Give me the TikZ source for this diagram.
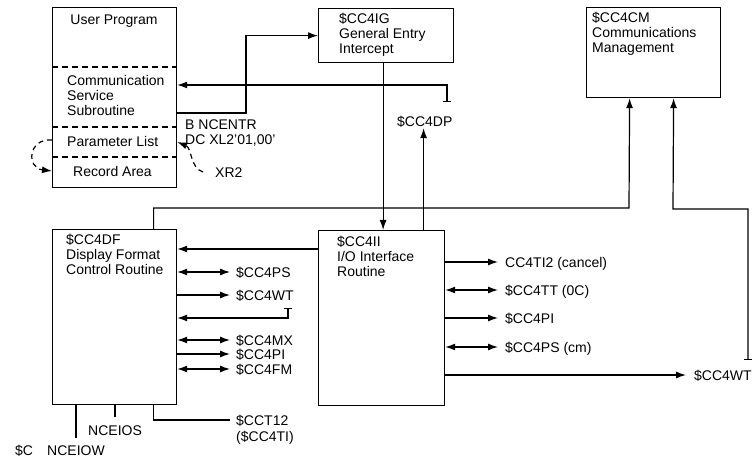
\documentclass[tikz,border=0pt]{standalone}
\usepackage{fontspec}
\setmainfont{Liberation Sans}
\usetikzlibrary{arrows.meta, positioning}

\begin{document}
\begin{tikzpicture}[
  x=1pt, y=-1pt,
  font=\fontsize{14}{15}\selectfont,
  every node/.style={inner sep=0pt},
  blk/.style ={rectangle, draw=black, line width=1.2pt, anchor=north west},
  txt/.style ={anchor=north west, align=left},
  lbl/.style ={anchor=west, text height=10pt, text depth=0pt},
  ln/.style  ={draw=black, line width=1.2pt},
  arr/.style ={-{Latex[length=10pt,width=7pt]}, ln},
  darr/.style={{Latex[length=10pt,width=7pt]}-{Latex[length=10pt,width=7pt]}, ln},
  tarr/.style={{Bar[width=8pt]}-{Latex[length=10pt,width=7pt]}, ln},
  sep/.style ={dash pattern=on 6pt off 4pt, line width=1.2pt},
  dsh/.style ={-{Latex[length=10pt,width=7pt]}, dash pattern=on 5pt off 4pt, line width=1.2pt}
]
\useasboundingbox (0,0) rectangle (752,457);

% Top row: user program, entry intercept, communications management
\node[blk, minimum width=124pt, minimum height=180pt] (user) at (52,7) {};
\node[blk, minimum width=135pt, minimum height=54pt]  (ig)   at (318,8) {};
\node[blk, minimum width=134pt, minimum height=90pt]  (cm)   at (586,7) {};

% User program sections
\draw[sep] ([yshift=-60pt]user.north west)  -- ([yshift=-60pt]user.north east);
\draw[sep] ([yshift=-120pt]user.north west) -- ([yshift=-120pt]user.north east);
\draw[sep] ([yshift=-150pt]user.north west) -- ([yshift=-150pt]user.north east);
\node[anchor=base]          (utitle) at (114,25) {User Program};
\node[txt]                  (css)    at (67,75)  {Communication\\Service\\Subroutine};
\node[anchor=base west]     (plist)  at (67,147) {Parameter List};
\node[anchor=base west]     (rec)    at (73,177) {Record Area};

\node[txt] (igtext) at (339,13) {\$CC4IG\\General Entry\\Intercept};
\node[txt] (cmtext) at (592,12) {\$CC4CM\\Communications\\Management};

% Labels round the user program
\node[txt]              (bnc) at (185,120) {B NCENTR\\DC XL2’01,00’};
\node[anchor=base west] (xr2) at (215,178) {XR2};
\node[anchor=base west] (dp)  at (397,127) {\$CC4DP};

% Bottom row: display format control, I/O interface
\node[blk, minimum width=124pt, minimum height=175pt] (df) at (52,229) {};
\node[blk, minimum width=126pt, minimum height=175pt] (ii) at (318,230) {};
\node[txt] (dftext) at (66,234) {\$CC4DF\\Display Format\\Control Routine};
\node[txt] (iitext) at (337,236) {\$CC4II\\I/O Interface\\Routine};

% Calls out of $CC4DF
\node[lbl] (dfps) at (236,272) {\$CC4PS};
\node[lbl] (dfwt) at (236,295) {\$CC4WT};
\node[lbl] (dfmx) at (236,340) {\$CC4MX};
\node[lbl] (dfpi) at (236,354) {\$CC4PI};
\node[lbl] (dffm) at (236,369) {\$CC4FM};
\node[lbl] (cct)   at (236,420) {\$CCT12};
\node[lbl] (cctti) at (236,436) {(\$CC4TI)};
\node[anchor=base west] (ios) at (88,435) {NCEIOS};
\node[anchor=base west] (iow) at (47,455) {NCEIOW};
\node[anchor=base west] (dc)  at (15,455) {\$C};

% Calls out of $CC4II
\node[lbl] (iiti) at (505,262) {CC4TI2 (cancel)};
\node[lbl] (iitt) at (505,290) {\$CC4TT (0C)};
\node[lbl] (iipi) at (505,318) {\$CC4PI};
\node[lbl] (iips) at (505,347) {\$CC4PS (cm)};
\node[lbl] (iiwt) at (694,375) {\$CC4WT};

% Tick ends
\coordinate (dptick) at (447,102);
\coordinate (wttick) at (288,308);
\coordinate (cmtick) at (748,360);

% Edges, top
\draw[arr]  ([yshift=-106pt]user.north east) -| ([xshift=-72pt]ig.west) -- (ig.west);
\draw[tarr] (dptick) |- ([yshift=-78pt]user.north east);
\draw[arr]  ([xshift=-3pt]ig.south) -- ([xshift=-3pt]ig.south |- ii.north);
\draw[arr]  ([xshift=42pt]ii.north) -- ([xshift=42pt]ii.north |- dp.south);
\draw[dsh]  ([yshift=-133pt]user.north west) .. controls (28,138) and (26,168) .. ([yshift=-164pt]user.north west);
\draw[dsh]  (203,172) .. controls (190,168) and (192,148) .. ([yshift=-135pt]user.north east);

% Edges to $CC4CM
\draw[arr]  ([xshift=39pt]df.north) |- (629,208) -- ([xshift=-24pt]cm.south);
\draw[tarr] (cmtick) -- (748,209) -- (673,209) -- ([xshift=20pt]cm.south);

% Edges, $CC4DF
\draw[arr]  ([yshift=-19pt]ii.north west) -- ([yshift=-19pt]ii.north west -| df.east);
\draw[darr] (df.east |- dfps) -- ([xshift=-6pt]dfps.west);
\draw[arr]  (df.east |- dfwt) -- ([xshift=-6pt]dfwt.west);
\draw[tarr] (wttick) |- ([yshift=-89pt]df.north east);
\draw[darr] (df.east |- dfmx) -- ([xshift=-6pt]dfmx.west);
\draw[arr]  (df.east |- dfpi) -- ([xshift=-6pt]dfpi.west);
\draw[darr] (df.east |- dffm) -- ([xshift=-6pt]dffm.west);
\draw[ln]   ([xshift=39pt]df.south) |- ([xshift=-6pt]cct.west);
\draw[ln]   (df.south -| ios.north) -- ([yshift=8pt]ios.north);
\draw[ln]   (df.south -| iow.north) -- ([yshift=7pt]iow.north);

% Edges, $CC4II
\draw[arr]  (ii.east |- iiti) -- ([xshift=-7pt]iiti.west);
\draw[darr] (ii.east |- iitt) -- ([xshift=-7pt]iitt.west);
\draw[arr]  (ii.east |- iipi) -- ([xshift=-7pt]iipi.west);
\draw[darr] (ii.east |- iips) -- ([xshift=-7pt]iips.west);
\draw[arr]  (ii.east |- iiwt) -- ([xshift=-8pt]iiwt.west);
\end{tikzpicture}
\end{document}
